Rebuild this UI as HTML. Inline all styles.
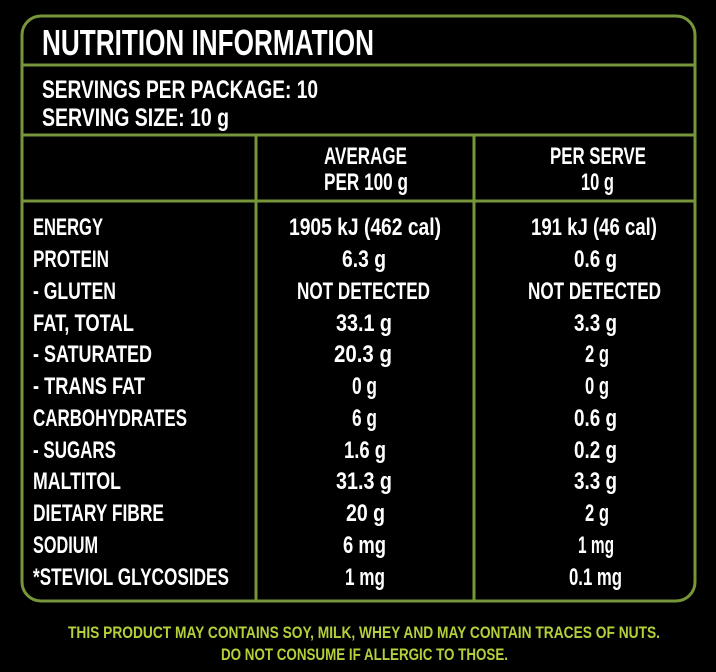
<!DOCTYPE html>
<html><head><meta charset="utf-8"><style>
html,body{margin:0;padding:0;background:#000;width:716px;height:672px;overflow:hidden}
svg{display:block}
text{font-family:"Liberation Sans",sans-serif;font-weight:bold;fill:#fff}
</style></head><body>
<svg width="716" height="672" viewBox="0 0 716 672">
<rect width="716" height="672" fill="#000"/>
<rect x="22" y="16" width="673" height="585" rx="19" ry="19" fill="none" stroke="#77963a" stroke-width="3"/>
<g stroke="#77963a" stroke-width="3">
<line x1="22" y1="65" x2="695" y2="65"/>
<line x1="22" y1="135" x2="695" y2="135"/>
<line x1="22" y1="201" x2="695" y2="201"/>
<line x1="256" y1="135" x2="256" y2="601"/>
<line x1="474" y1="135" x2="474" y2="601"/>
</g>
<g lengthAdjust="spacingAndGlyphs">
<text x="42" y="55" font-size="36" textLength="332" lengthAdjust="spacingAndGlyphs">NUTRITION INFORMATION</text>
<text x="42" y="98" font-size="25" textLength="276" lengthAdjust="spacingAndGlyphs">SERVINGS PER PACKAGE: 10</text>
<text x="42" y="126" font-size="25" textLength="187" lengthAdjust="spacingAndGlyphs">SERVING SIZE: 10 g</text>
<text x="324" y="164" font-size="24" textLength="83" lengthAdjust="spacingAndGlyphs">AVERAGE</text>
<text x="324" y="190" font-size="24" textLength="84" lengthAdjust="spacingAndGlyphs">PER 100 g</text>
<text x="550" y="164" font-size="24" textLength="96" lengthAdjust="spacingAndGlyphs">PER SERVE</text>
<text x="581" y="190" font-size="24" textLength="33" lengthAdjust="spacingAndGlyphs">10 g</text>
</g>
<g font-size="24">
<text x="33" y="235" textLength="70" lengthAdjust="spacingAndGlyphs">ENERGY</text>
<text x="33" y="267" textLength="76" lengthAdjust="spacingAndGlyphs">PROTEIN</text>
<text x="33" y="299" textLength="83" lengthAdjust="spacingAndGlyphs">- GLUTEN</text>
<text x="33" y="331" textLength="101" lengthAdjust="spacingAndGlyphs">FAT, TOTAL</text>
<text x="33" y="362" textLength="119" lengthAdjust="spacingAndGlyphs">- SATURATED</text>
<text x="33" y="394" textLength="112" lengthAdjust="spacingAndGlyphs">- TRANS FAT</text>
<text x="33" y="426" textLength="154" lengthAdjust="spacingAndGlyphs">CARBOHYDRATES</text>
<text x="33" y="458" textLength="83" lengthAdjust="spacingAndGlyphs">- SUGARS</text>
<text x="33" y="489" textLength="88" lengthAdjust="spacingAndGlyphs">MALTITOL</text>
<text x="33" y="521" textLength="131" lengthAdjust="spacingAndGlyphs">DIETARY FIBRE</text>
<text x="33" y="553" textLength="65" lengthAdjust="spacingAndGlyphs">SODIUM</text>
<text x="33" y="585" textLength="196" lengthAdjust="spacingAndGlyphs">*STEVIOL GLYCOSIDES</text>

<text x="289" y="235" textLength="152" lengthAdjust="spacingAndGlyphs">1905 kJ (462 cal)</text>
<text x="342" y="267" textLength="44" lengthAdjust="spacingAndGlyphs">6.3 g</text>
<text x="297" y="299" textLength="133" lengthAdjust="spacingAndGlyphs">NOT DETECTED</text>
<text x="336" y="331" textLength="56" lengthAdjust="spacingAndGlyphs">33.1 g</text>
<text x="334" y="362" textLength="58" lengthAdjust="spacingAndGlyphs">20.3 g</text>
<text x="352" y="394" textLength="25" lengthAdjust="spacingAndGlyphs">0 g</text>
<text x="352" y="426" textLength="25" lengthAdjust="spacingAndGlyphs">6 g</text>
<text x="344" y="458" textLength="42" lengthAdjust="spacingAndGlyphs">1.6 g</text>
<text x="336" y="489" textLength="56" lengthAdjust="spacingAndGlyphs">31.3 g</text>
<text x="346" y="521" textLength="39" lengthAdjust="spacingAndGlyphs">20 g</text>
<text x="343" y="553" textLength="43" lengthAdjust="spacingAndGlyphs">6 mg</text>
<text x="345" y="585" textLength="40" lengthAdjust="spacingAndGlyphs">1 mg</text>

<text x="531" y="235" textLength="126" lengthAdjust="spacingAndGlyphs">191 kJ (46 cal)</text>
<text x="574" y="267" textLength="43" lengthAdjust="spacingAndGlyphs">0.6 g</text>
<text x="528" y="299" textLength="133" lengthAdjust="spacingAndGlyphs">NOT DETECTED</text>
<text x="574" y="331" textLength="43" lengthAdjust="spacingAndGlyphs">3.3 g</text>
<text x="585" y="362" textLength="24" lengthAdjust="spacingAndGlyphs">2 g</text>
<text x="585" y="394" textLength="24" lengthAdjust="spacingAndGlyphs">0 g</text>
<text x="574" y="426" textLength="43" lengthAdjust="spacingAndGlyphs">0.6 g</text>
<text x="574" y="458" textLength="43" lengthAdjust="spacingAndGlyphs">0.2 g</text>
<text x="574" y="489" textLength="43" lengthAdjust="spacingAndGlyphs">3.3 g</text>
<text x="585" y="521" textLength="24" lengthAdjust="spacingAndGlyphs">2 g</text>
<text x="578" y="553" textLength="36" lengthAdjust="spacingAndGlyphs">1 mg</text>
<text x="569" y="585" textLength="53" lengthAdjust="spacingAndGlyphs">0.1 mg</text>
</g>
<g font-size="17" style="fill:#b3cf3a">
<text x="68" y="638" textLength="592" lengthAdjust="spacingAndGlyphs" style="fill:#b3cf3a">THIS PRODUCT MAY CONTAINS SOY, MILK, WHEY AND MAY CONTAIN TRACES OF NUTS.</text>
<text x="221" y="660" textLength="287" lengthAdjust="spacingAndGlyphs" style="fill:#b3cf3a">DO NOT CONSUME IF ALLERGIC TO THOSE.</text>
</g>
</svg>
</body></html>
